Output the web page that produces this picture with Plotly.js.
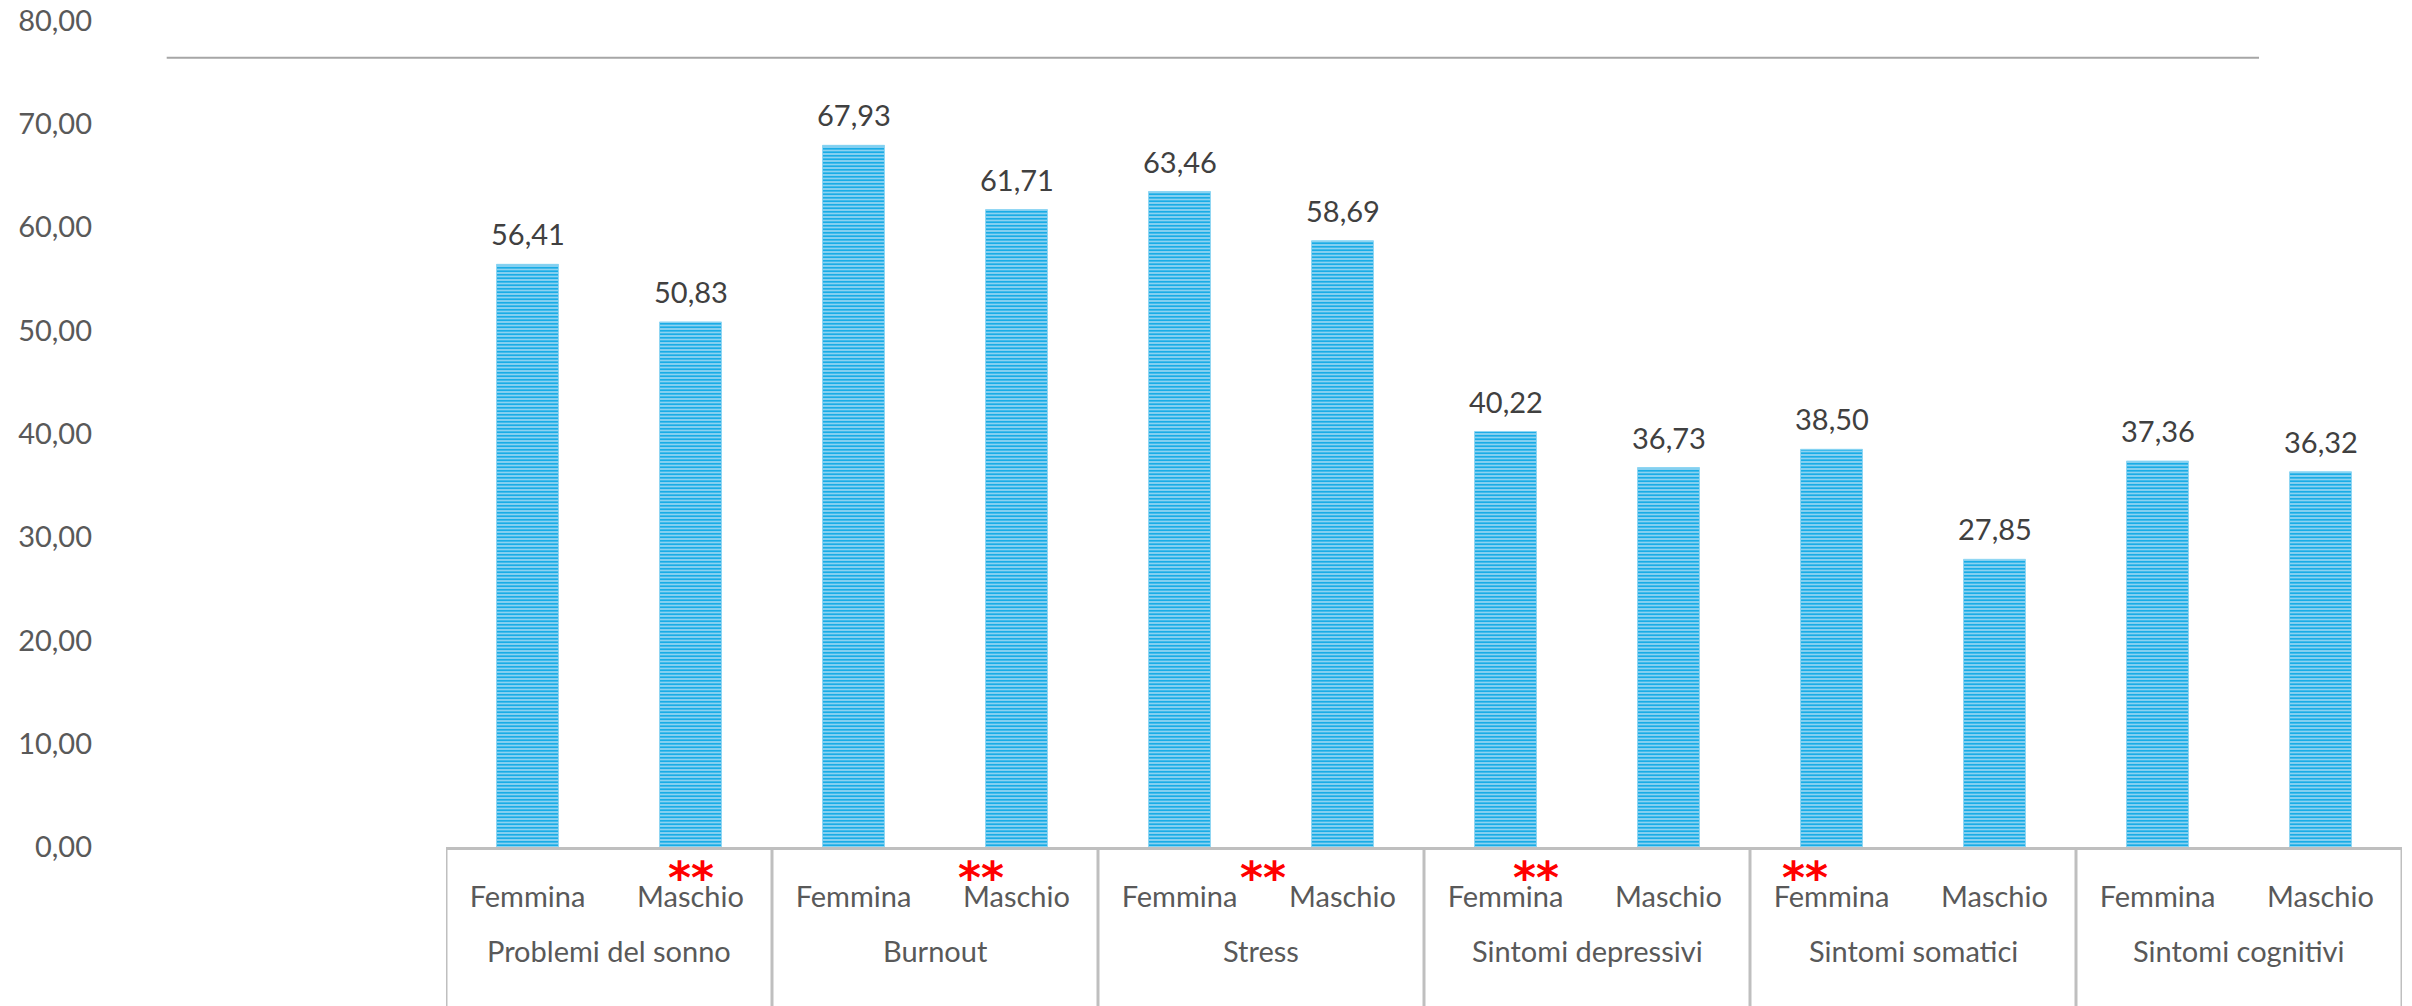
<!DOCTYPE html>
<html>
<head>
<meta charset="utf-8">
<script src="https://cdn.plot.ly/plotly-3.0.1.min.js"></script>
<style>
  html, body { margin: 0; padding: 0; background: #ffffff; }
  #chart { width: 2412px; height: 1006px; }
</style>
</head>
<body>
<div id="chart"></div>
<script>
// ---- data ----
const groups = ["Problemi del sonno", "Burnout", "Stress", "Sintomi depressivi", "Sintomi somatici", "Sintomi cognitivi"];
const genders = ["Femmina", "Maschio"];
const femmina = [56.41, 67.93, 63.46, 40.22, 38.50, 37.36];
const maschio = [50.83, 61.71, 58.69, 36.73, 27.85, 36.32];
const yTicks = [0, 10, 20, 30, 40, 50, 60, 70, 80];
// significance markers "**" (approximate category-index positions as placed in the original)
const sigPos = [1.0, 2.78, 4.51, 6.19, 7.84];

// ---- build ----
const cats = [];
const vals = [];
groups.forEach((g, i) => {
  cats.push(g + " | " + genders[0]); vals.push(femmina[i]);
  cats.push(g + " | " + genders[1]); vals.push(maschio[i]);
});
const tickText = cats.map(c => c.split(" | ")[1]);

const FONT = "Lato, 'Open Sans', sans-serif";
const W = 2412, H = 1006;
const plotLeft = 446, plotRight = 2402, plotBottom = 847;

const trace = {
  type: "bar",
  x: cats,
  y: vals,
  width: 0.38,
  marker: {
    color: "#19ACE6",
    line: { color: "#8fd6f3", width: 1 },
    pattern: {
      shape: "-",
      fillmode: "replace",
      fgcolor: "#19ACE6",
      bgcolor: "#A8DCF4",
      size: 3.5,
      solidity: 0.6
    }
  },
  hoverinfo: "x+y",
  showlegend: false
};

const annotations = [];
// data labels
cats.forEach((c, i) => {
  annotations.push({
    x: c, y: vals[i], xref: "x", yref: "y",
    text: vals[i].toFixed(2).replace(".", ","),
    showarrow: false, yanchor: "bottom", yshift: 11,
    font: { family: FONT, size: 29, color: "#404040" }
  });
});
// group labels
const paperBelow = px => -(px - plotBottom) / plotBottom;
groups.forEach((g, i) => {
  annotations.push({
    x: 2 * i + 0.5, y: paperBelow(950), xref: "x", yref: "paper",
    text: g, showarrow: false, yanchor: "middle",
    font: { family: FONT, size: 29, color: "#595959" }
  });
});
// significance stars
sigPos.forEach(p => {
  annotations.push({
    x: p, y: paperBelow(877), xref: "x", yref: "paper",
    text: "<b>**</b>", showarrow: false, yanchor: "middle",
    font: { family: "'DejaVu Sans', sans-serif", size: 44, color: "#ff0000" }
  });
});

const shapes = [];
for (let k = 0; k <= groups.length; k++) {
  shapes.push({
    type: "line", xref: "x", yref: "paper",
    x0: 2 * k - 0.5, x1: 2 * k - 0.5, y0: 0, y1: -0.25,
    line: { color: "#bfbfbf", width: 3 }
  });
}
// top gridline (as drawn in the original)
shapes.push({
  type: "line", xref: "paper", yref: "paper",
  x0: 166.7 / W, x1: 2259 / W, y0: (plotBottom - 57.7) / plotBottom, y1: (plotBottom - 57.7) / plotBottom,
  line: { color: "#a6a6a6", width: 2 }
});

const layout = {
  width: W, height: H,
  margin: { l: 0, r: 0, t: 0, b: H - plotBottom, pad: 0 },
  paper_bgcolor: "#ffffff",
  plot_bgcolor: "rgba(0,0,0,0)",
  separators: ",.",
  font: { family: FONT, color: "#595959" },
  xaxis: {
    type: "category",
    domain: [plotLeft / W, plotRight / W],
    range: [-0.5, cats.length - 0.5],
    tickvals: cats, ticktext: tickText,
    ticks: "", showgrid: false, zeroline: false,
    showline: true, linecolor: "#bfbfbf", linewidth: 3,
    tickfont: { family: FONT, size: 29, color: "#595959" },
    ticklabelstandoff: 22,
    fixedrange: true
  },
  yaxis: {
    anchor: "free", position: 92 / W,
    range: [0, 82],
    tickvals: yTicks, tickformat: ".2f",
    ticks: "", showgrid: false, zeroline: false, showline: false,
    tickfont: { family: FONT, size: 29, color: "#595959" },
    fixedrange: true
  },
  shapes: shapes,
  annotations: annotations,
  bargap: 0.62
};

Plotly.newPlot("chart", [trace], layout, { displayModeBar: false, staticPlot: true });
</script>
</body>
</html>
